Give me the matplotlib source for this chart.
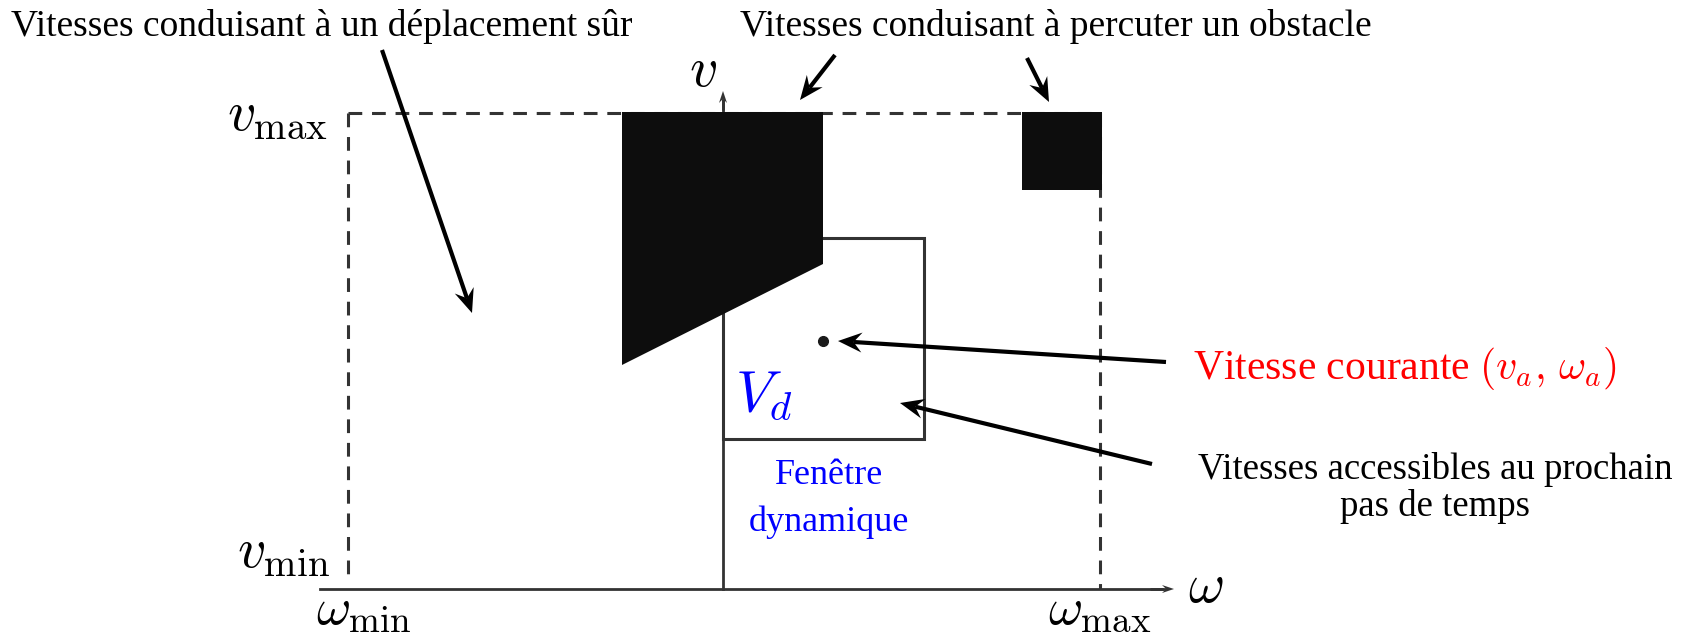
import numpy as np
import matplotlib.pyplot as plt
from matplotlib.patches import Polygon

plt.rcParams['mathtext.fontset'] = 'cm'
plt.rcParams['font.family'] = ['Liberation Serif', 'DejaVu Serif']

W, H = 1692, 638

# geometry of the diagram (pixel units, y going down)
w_min, w_max = 348, 1100        # dashed limits
v_max_y, v_min_y = 113, 589     # vmax dashed line, horizontal axis
axis_x = 723                    # vertical axis (omega = 0)

obstacle_big = [(622, 112), (823, 112), (823, 264), (622, 365)]
obstacle_small = [(1022, 112), (1102, 112), (1102, 190), (1022, 190)]
window_box = [(723, 238), (924, 238), (924, 439), (723, 439)]
current_speed = (823, 341)

# annotation arrows: (tail, tip)
arrows = [
    ((382, 50), (472, 313)),
    ((835, 55), (800, 100)),
    ((1027, 58), (1049, 102)),
    ((1166, 362), (838, 341)),
    ((1152, 464), (900, 403)),
]

fig = plt.figure(figsize=(W / 100, H / 100), dpi=100)
ax = fig.add_axes([0, 0, 1, 1])
ax.set_xlim(0, W)
ax.set_ylim(H, 0)
ax.axis('off')

line_c = '#333333'


def stealth(ax, tail, tip, lw=3.0, L=24, hw=10, color='black'):
    tail = np.array(tail, float)
    tip = np.array(tip, float)
    u = (tip - tail) / np.hypot(*(tip - tail))
    n = np.array([-u[1], u[0]])
    back = tip - 0.65 * L * u
    ax.plot([tail[0], back[0]], [tail[1], back[1]], color=color, lw=lw,
            solid_capstyle='butt', zorder=5)
    head = [tip, tip - L * u + hw * n, back, tip - L * u - hw * n]
    ax.add_patch(Polygon(head, closed=True, color=color, lw=0, zorder=6))


# dashed limits
dash = (0, (4.5, 3.2))
ax.plot([w_min, w_max], [v_max_y, v_max_y], ls=dash, color=line_c, lw=2.2, zorder=1)
ax.plot([w_min, w_min], [v_max_y, v_min_y - 10], ls=dash, color=line_c, lw=2.2, zorder=1)
ax.plot([w_max, w_max], [v_max_y, v_min_y], ls=dash, color=line_c, lw=2.2, zorder=1)

# axes
ax.plot([320, 1162], [v_min_y, v_min_y], color=line_c, lw=2, zorder=2)
stealth(ax, (1150, v_min_y), (1174, v_min_y), lw=2, L=12, hw=4, color=line_c)
ax.plot([axis_x, axis_x], [v_min_y, 100], color=line_c, lw=2, zorder=2)
stealth(ax, (axis_x, 110), (axis_x, 91), lw=2, L=12, hw=4, color=line_c)

# dynamic window (under the obstacle)
ax.add_patch(Polygon(window_box, closed=True, fill=False, edgecolor=line_c, lw=2.2, zorder=2))
ax.plot(*current_speed, 'o', color='#1a1a1a', ms=7, zorder=4)

# obstacles
ax.add_patch(Polygon(obstacle_big, closed=True, color='#0d0d0d', lw=0, zorder=3))
ax.add_patch(Polygon(obstacle_small, closed=True, color='#0d0d0d', lw=0, zorder=3))

for tail, tip in arrows:
    stealth(ax, tail, tip)

# texts
ax.text(11, 27, 'Vitesses conduisant à un déplacement sûr', fontsize=27,
        ha='left', va='center')
ax.text(740, 27, 'Vitesses conduisant à percuter un obstacle', fontsize=27,
        ha='left', va='center')
ax.text(1193, 369, r'Vitesse courante $(v_a,\, \omega_a)$', fontsize=30,
        color='red', ha='left', va='center')
ax.text(1435, 488, 'Vitesses accessibles au prochain\npas de temps', fontsize=26.5,
        ha='center', va='center', linespacing=1.05)
ax.text(829, 499, 'Fenêtre\ndynamique', fontsize=26, color='blue',
        ha='center', va='center', linespacing=1.5)
ax.text(735, 396, r'$V_d$', fontsize=42, color='blue', ha='left', va='center')

ax.text(703, 72, r'$v$', fontsize=40, ha='center', va='center')
ax.text(328, 116, r'$v_{\max}$', fontsize=40, ha='right', va='center')
ax.text(330, 554, r'$v_{\min}$', fontsize=40, ha='right', va='center')
ax.text(364, 624, r'$\omega_{\min}$', fontsize=38, ha='center', va='baseline')
ax.text(1100, 624, r'$\omega_{\max}$', fontsize=38, ha='center', va='baseline')
ax.text(1188, 588, r'$\omega$', fontsize=40, ha='left', va='center')

fig.savefig('out.png', dpi=100, facecolor='white')
